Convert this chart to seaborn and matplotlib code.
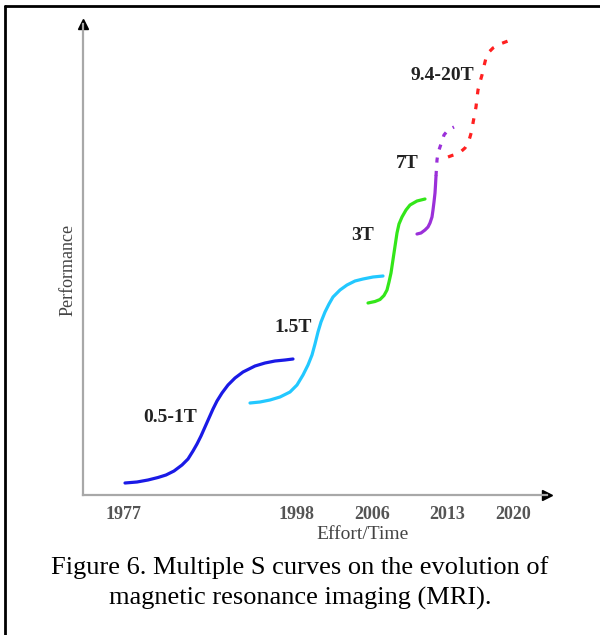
import matplotlib
matplotlib.use("Agg")
import matplotlib.pyplot as plt
from matplotlib.lines import Line2D
import pandas as pd
import seaborn as sns

# effort (x) and performance (y) in arbitrary units
blue_x = [42, 54, 65, 75, 83, 91, 99, 105, 110, 114, 118, 122, 126, 130, 134, 139,
          145, 152, 160, 172, 182, 192, 202, 210]
blue_y = [12, 13, 15, 17.5, 20, 24, 30, 36, 44, 51, 59, 68, 77, 86, 94, 102,
          110, 117, 123, 129, 132, 134, 135, 136]
cyan_x = [167, 177, 187, 197, 207, 214, 220, 225, 229, 232, 235, 238, 242, 246, 250,
          257, 264, 272, 280, 290, 300]
cyan_y = [92, 93, 95, 98, 103, 110, 120, 130, 140, 151, 163, 173, 183, 191, 198,
          205, 210, 214, 216, 218, 219]
green_x = [285, 292, 297, 301, 304, 306, 308, 309.5, 311, 312.5, 314, 316, 319, 323,
           327, 334, 342]
green_y = [192, 193.5, 195.5, 199.5, 205, 213, 222, 232, 242, 252, 262, 271, 278, 285,
           290, 294, 296]
purple_x = [334, 338, 342, 345, 347, 349, 350, 351, 352, 352.5, 353]
purple_y = [261, 262, 265, 268, 272, 278, 285, 293, 302, 310, 319]
purple_dot_x = [353, 353.5, 354, 355, 357, 359, 361, 365, 371]
purple_dot_y = [319, 327, 335, 342, 348, 354, 360, 365, 368]
red_x = [365, 369, 374, 378, 382, 385, 387, 389, 390, 391.5, 393, 394, 395, 397, 399,
         401, 403, 406, 410, 417, 425]
red_y = [338, 339.5, 341, 343.5, 347, 352, 358, 365, 372, 380, 388, 397, 405, 413, 420,
         429, 437, 443, 447, 451, 454]

tick_pos = [41, 214, 289, 364, 430]
tick_labels = ["1977", "1998", "2006", "2013", "2020"]

curve_labels = ["0.5-1T", "1.5T", "3T", "7T", "9.4-20T"]
label_x = [87, 210, 280, 324, 359]
label_y = [77, 168, 260, 332, 420]

sns.set_theme(style="white")
plt.rcParams["font.family"] = ["Liberation Serif", "DejaVu Serif"]

fig = plt.figure(figsize=(6, 6.35), dpi=100)
ax = fig.add_axes([83 / 600, 1 - 495 / 635, 464 / 600, 471 / 635])

curves = [
    (blue_x, blue_y, "#1a1ae6", "-"),
    (cyan_x, cyan_y, "#22c8ff", "-"),
    (green_x, green_y, "#33e619", "-"),
    (purple_x, purple_y, "#9b30d9", "-"),
    (purple_dot_x, purple_dot_y, "#9b30d9", (0, (1.6, 2.6))),
    (red_x, red_y, "#ff2020", (0, (1.8, 2.9))),
]
for xs, ys, col, ls in curves:
    df = pd.DataFrame({"x": xs, "y": ys})
    sns.lineplot(data=df, x="x", y="y", sort=False, color=col, linewidth=2.3,
                 linestyle=ls, ax=ax, solid_capstyle="round", dash_capstyle="butt")

for t, x, y in zip(curve_labels, label_x, label_y):
    ax.text(x, y, t, ha="center", va="center", fontsize=14, fontweight="bold", color="#222222")

ax.set_xlim(0, 464)
ax.set_ylim(0, 471)
ax.set_xticks(tick_pos)
ax.set_xticklabels(tick_labels, fontsize=13, fontweight="bold", color="#555555")
ax.set_yticks([])
ax.tick_params(axis="x", length=0, pad=8)
ax.set_xlabel("")
ax.set_ylabel("")
for s in ["top", "right"]:
    ax.spines[s].set_visible(False)
for s in ["left", "bottom"]:
    ax.spines[s].set_color("#a8a8a8")
    ax.spines[s].set_linewidth(1.6)
ax.plot(1, 0, marker=">", color="black", markersize=7, transform=ax.transAxes, clip_on=False)
ax.plot(0, 1, marker="^", color="black", markersize=7, transform=ax.transAxes, clip_on=False)

ax.text(-0.032, 0.478, "Performance", rotation=90, ha="center", va="center",
        fontsize=13, color="#444444", transform=ax.transAxes)
ax.text(0.603, -0.084, "Effort/Time", ha="center", va="center",
        fontsize=14, color="#444444", transform=ax.transAxes)

fig.text(0.5, 1 - 568 / 635, "Figure 6. Multiple S curves on the evolution of",
         ha="center", va="center", fontsize=19, color="black")
fig.text(0.5, 1 - 598 / 635, "magnetic resonance imaging (MRI).",
         ha="center", va="center", fontsize=19, color="black")

# frame (only left and top edges visible in the crop)
fig.add_artist(Line2D([5 / 600, 5 / 600], [0, 1 - 6 / 635], color="black", linewidth=2))
fig.add_artist(Line2D([5 / 600, 1], [1 - 6 / 635, 1 - 6 / 635], color="black", linewidth=2))

fig.savefig("out.png", dpi=100)
